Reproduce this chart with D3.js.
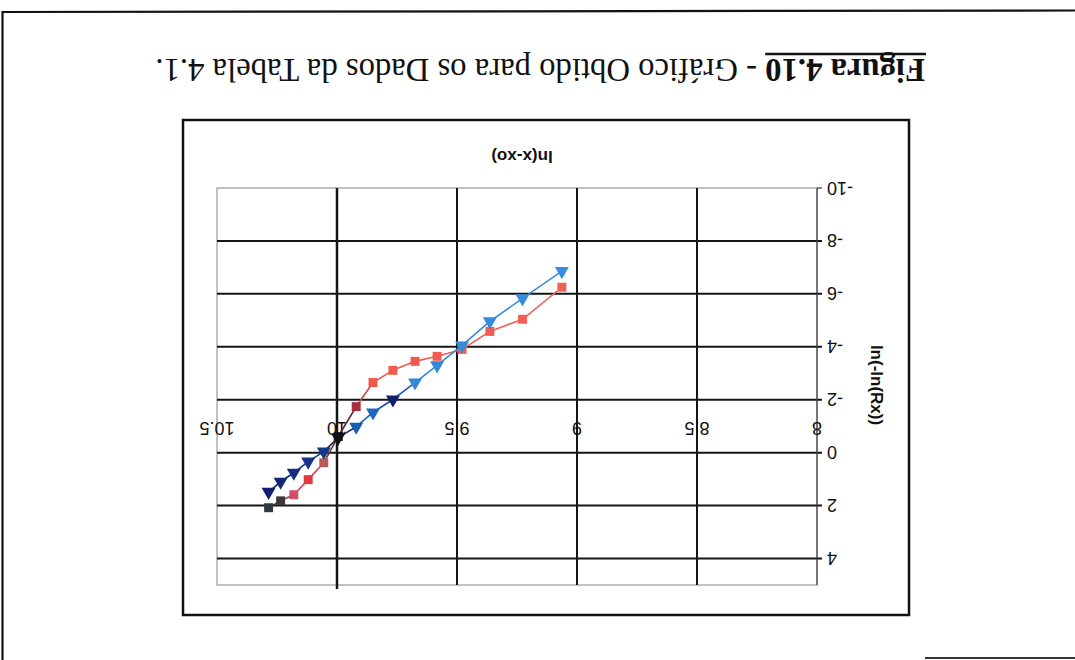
<!DOCTYPE html>
<html><head><meta charset="utf-8">
<script src="https://cdn.jsdelivr.net/npm/d3@7"></script>
<style>body{margin:0;background:#fff;overflow:hidden}</style>
</head><body>
<script>
// Weibull-type linearisation: ln(-ln(Rx)) against ln(x - xo)
const xValues   = [10.285, 10.235, 10.18, 10.12, 10.055, 9.995, 9.92, 9.85, 9.767, 9.675, 9.583, 9.479, 9.363, 9.227, 9.063];
const redValues = [2.08, 1.82, 1.59, 1.02, 0.38, -0.61, -1.74, -2.65, -3.11, -3.45, -3.64, -3.90, -4.58, -5.04, -6.25];
const blueValues= [1.48, 1.10, 0.76, 0.34, -0.04, -0.57, -0.98, -1.52, -2.01, -2.65, -3.30, -4.05, -4.96, -5.83, -6.86];
const xTicks = [8, 8.5, 9, 9.5, 10, 10.5];
const xTickLabels = ["8", "8.5", "9", "9.5", "10", "10.5"];
const yTicks = [-10, -8, -6, -4, -2, 0, 2, 4];
const yTickLabels = ["-10", "-8", "-6", "-4", "-2", "0", "2", "4"];
const titleBold = "Figura 4.10";
const titleRest = " - Gráfico Obtido para os Dados da Tabela 4.1.";
const xTitle = "ln(x-xo)";
const yTitle = "ln(-ln(Rx))";

const W = 1075, H = 660;
const svg = d3.select("body").append("svg").attr("width", W).attr("height", H);
svg.append("rect").attr("width", W).attr("height", H).attr("fill", "#fff");

// the scanned page is mounted upside down
const page = svg.append("g").attr("transform", `rotate(180 ${W / 2} ${H / 2})`);

// page frame
page.append("line").attr("x1", 0).attr("x2", 1073).attr("y1", 649.5).attr("y2", 648)
  .attr("stroke", "#111").attr("stroke-width", 2.2);
page.append("line").attr("x1", 1072.5).attr("x2", 1072.5).attr("y1", 0).attr("y2", 649)
  .attr("stroke", "#111").attr("stroke-width", 2.2);
page.append("line").attr("x1", 0).attr("x2", 150).attr("y1", 2).attr("y2", 2)
  .attr("stroke", "#333").attr("stroke-width", 2);

// chart frame
page.append("rect").attr("x", 166).attr("y", 45).attr("width", 726).attr("height", 495)
  .attr("fill", "none").attr("stroke", "#111").attr("stroke-width", 2.5);

const plot = { left: 258, right: 858, top: 75, bottom: 472 };
const x = d3.scaleLinear().domain([8, 10.5]).range([plot.left, plot.right]);
const y = d3.scaleLinear().domain([-10, 5]).range([plot.bottom, plot.top]);

const sans = "Liberation Sans, Arial, sans-serif";

// plot border
page.append("rect").attr("x", plot.left).attr("y", plot.top)
  .attr("width", plot.right - plot.left).attr("height", plot.bottom - plot.top)
  .attr("fill", "none").attr("stroke", "#9a9a9a").attr("stroke-width", 1.2);

// horizontal gridlines with outside ticks
page.append("g").selectAll("line").data(yTicks.filter(v => v > -10)).join("line")
  .attr("x1", plot.left - 5).attr("x2", plot.right)
  .attr("y1", d => y(d)).attr("y2", d => y(d))
  .attr("stroke", "#151515").attr("stroke-width", 2);
page.append("line").attr("x1", plot.left - 5).attr("x2", plot.left)
  .attr("y1", y(-10)).attr("y2", y(-10)).attr("stroke", "#333").attr("stroke-width", 1.2);

// vertical gridlines
page.append("g").selectAll("line").data(xTicks.filter(v => v > 8 && v < 10.5)).join("line")
  .attr("x1", d => x(d)).attr("x2", d => x(d))
  .attr("y1", d => d === 10 ? plot.top - 4 : plot.top).attr("y2", plot.bottom)
  .attr("stroke", "#151515").attr("stroke-width", d => d === 10 ? 2.5 : 2);

// y axis line
page.append("line").attr("x1", plot.left).attr("x2", plot.left)
  .attr("y1", plot.top).attr("y2", plot.bottom).attr("stroke", "#444").attr("stroke-width", 1.2);

// y tick labels
page.append("g").selectAll("text").data(yTicks).join("text")
  .attr("x", plot.left - 10).attr("y", d => y(d)).attr("dy", "0.36em")
  .attr("text-anchor", "end").attr("font-family", sans)
  .attr("font-size", 18).attr("fill", "#111")
  .text((d, i) => yTickLabels[i]);

// x tick labels sit just below the y = 0 crossing
page.append("g").selectAll("text").data(xTicks).join("text")
  .attr("x", d => x(d)).attr("y", y(0) + 31)
  .attr("text-anchor", "middle").attr("font-family", sans)
  .attr("font-size", 18).attr("fill", "#111")
  .text((d, i) => xTickLabels[i]);

// axis titles
page.append("text").attr("x", 553).attr("y", 509).attr("text-anchor", "middle")
  .attr("font-family", sans).attr("font-weight", "bold")
  .attr("font-size", 17).attr("fill", "#111").text(xTitle);
page.append("text").attr("transform", "translate(204,275) rotate(-90)").attr("text-anchor", "middle")
  .attr("font-family", sans).attr("font-weight", "bold")
  .attr("font-size", 17).attr("fill", "#111").text(yTitle);

// title, sized to run across the page width
const title = page.append("text").attr("x", 150).attr("y", 601)
  .attr("font-family", "Liberation Serif, Times New Roman, serif").attr("font-size", 28).attr("fill", "#111");
const tb = title.append("tspan").attr("font-weight", "bold").text(titleBold);
title.append("tspan").text(titleRest);
const fullW = title.node().getComputedTextLength();
title.attr("font-size", 28 * 770 / fullW);
const tbw = tb.node().getComputedTextLength();
page.append("line").attr("x1", 149).attr("x2", 150 + tbw).attr("y1", 606).attr("y2", 606)
  .attr("stroke", "#111").attr("stroke-width", 2.5);

// scanned ink shifts the marker colours along the series
const redInk = d3.scaleLinear()
  .domain([10.285, 10.235, 10.18, 10.12, 10.055, 9.995, 9.92, 9.85, 9.0])
  .range(["#2f3a40", "#403838", "#d0506a", "#e03a40", "#b85a5a", "#151515", "#a83040", "#f05a4a", "#f0605a"])
  .clamp(true);
const blueInk = d3.scaleLinear()
  .domain([10.285, 10.06, 9.995, 9.92, 9.85, 9.767, 9.675, 9.0])
  .range(["#102070", "#1a3a90", "#101010", "#1a5fb0", "#1e6ac0", "#10206a", "#3388d8", "#3a8ee0"])
  .clamp(true);

function drawSeries(values, ink, symbolType, size) {
  const pts = xValues.map((xv, i) => ({ x: xv, y: values[i] }));
  const g = page.append("g");
  g.selectAll("line").data(d3.pairs(pts)).join("line")
    .attr("x1", d => x(d[0].x)).attr("y1", d => y(d[0].y))
    .attr("x2", d => x(d[1].x)).attr("y2", d => y(d[1].y))
    .attr("stroke", d => ink((d[0].x + d[1].x) / 2)).attr("stroke-width", 1.6);
  g.selectAll("path").data(pts).join("path")
    .attr("d", d3.symbol().type(symbolType).size(size))
    .attr("transform", d => `translate(${x(d.x)},${y(d.y)})`)
    .attr("fill", d => ink(d.x));
}
drawSeries(redValues, redInk, d3.symbolSquare, 80);
drawSeries(blueValues, blueInk, d3.symbolTriangle, 85);
</script>
</body></html>
